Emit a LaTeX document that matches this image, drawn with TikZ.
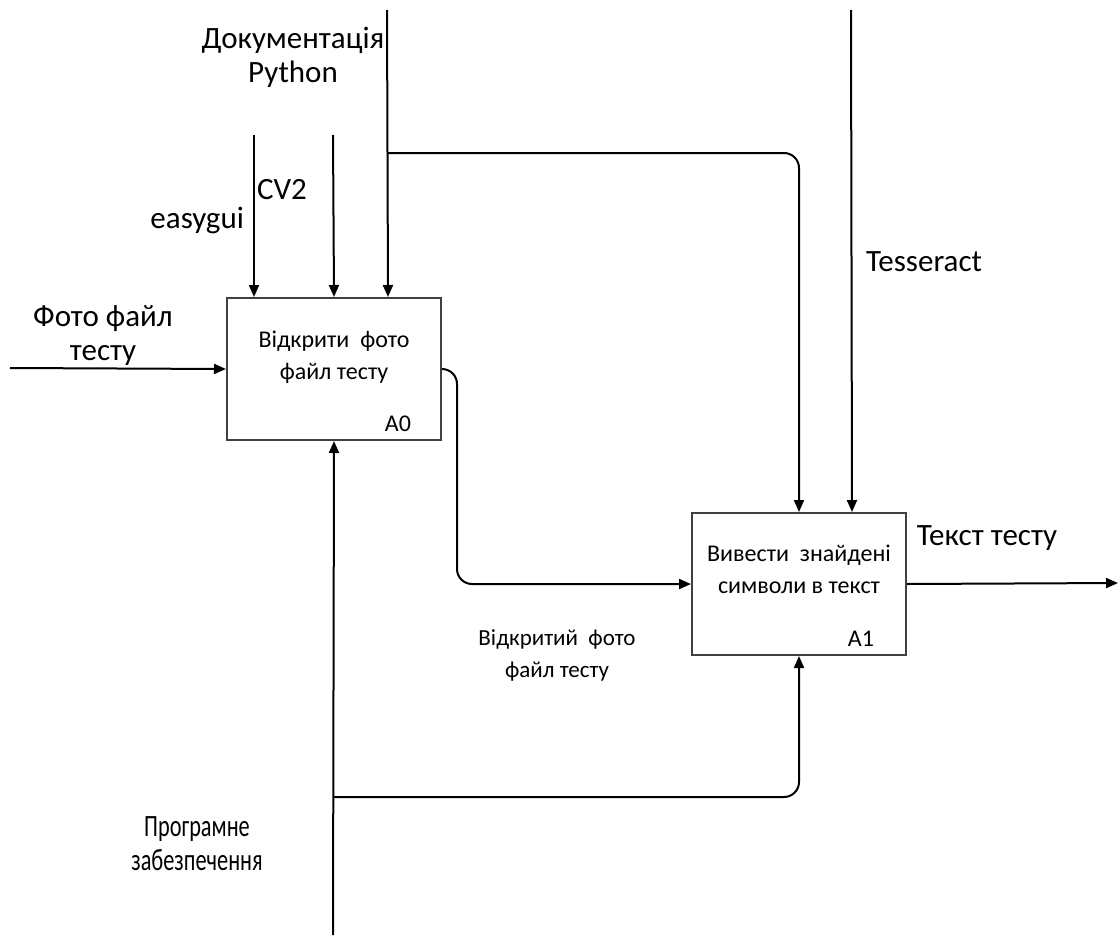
\documentclass[tikz,border=0pt]{standalone}
\usepackage{fontspec}
\setmainfont{Carlito}
\usetikzlibrary{arrows.meta, positioning}

\begin{document}
\begin{tikzpicture}[x=0.5pt, y=-0.5pt]

% --- Styles ---
\tikzset{
    funcbox/.style={draw=black!75, line width=1pt, minimum width=107pt, minimum height=71pt, anchor=north west},
    boxtext/.style={font=\fontsize{12}{16}\selectfont, align=center},
    boxcode/.style={font=\fontsize{12}{13}\selectfont},
    flow/.style={line width=1pt, -{Triangle[length=6pt, width=5pt]}},
    roundflow/.style={flow, rounded corners=7.5pt},
    arrowlabel/.style={font=\fontsize{15.5}{17}\selectfont, align=center}
}
\useasboundingbox (0,0) rectangle (1119,937);

% 1. The two function boxes
\node[funcbox] (a0) at (226,297) {};
\node[funcbox] (a1) at (691,512) {};
\node[boxtext] (a0text) at ([yshift=6pt]a0.center) {Відкрити \ фото\\файл тесту};
\node[boxtext] (a1text) at ([yshift=7.5pt]a1.center) {Вивести \ знайдені\\символи в текст};
\node[boxcode, anchor=south east] (a0code) at ([xshift=-12pt, yshift=1pt]a0.south east) {A0};
\node[boxcode, anchor=south east] (a1code) at ([xshift=-13pt, yshift=1pt]a1.south east) {A1};

% 2. Free ends of the arrows
\coordinate (photoIn) at (10,368);
\coordinate (easyguiIn) at (254,135);
\coordinate (cvIn) at (333,135);
\coordinate (docIn) at (387,10);
\coordinate (docBranch) at (387,153);
\coordinate (tessIn) at (851,10);
\coordinate (swIn) at (333,935);
\coordinate (swBranch) at (333,797);
\coordinate (textOut) at (1118,583);

% 3. Input, controls and mechanism of A0
\draw[flow] (photoIn) -- (a0.west);
\draw[flow] (easyguiIn) -- ([xshift=14pt]a0.north west);
\draw[flow] (cvIn) -- (a0.north);
\draw[flow] (docIn) -- ([xshift=27pt]a0.north);
\draw[flow] (swIn) -- (a0.south);

% 4. Arrows of A1
\draw[roundflow] (a0.east) -- ++(15,0) |- (a1.west);
\draw[roundflow] (docBranch) -| (a1.north);
\draw[flow] (tessIn) -- ([xshift=26.5pt]a1.north);
\draw[roundflow] (swBranch) -| (a1.south);
\draw[flow] (a1.east) -- (textOut);

% 5. Labels
\node[arrowlabel] (docLabel) at (293,57) {Документація\\Python};
\node[arrowlabel] (cvLabel) at (282,190) {CV2};
\node[arrowlabel, anchor=east] (easyguiLabel) at (251,220) {easygui};
\node[arrowlabel] (tessLabel) at (924,262) {Tesseract};
\node[arrowlabel] (photoLabel) at (103,336) {Фото файл\\тесту};
\node[boxtext, font=\fontsize{11.5}{16}\selectfont] (openLabel) at (557,655) {Відкритий \ фото\\файл тесту};
\node[arrowlabel] (textLabel) at (987,538) {Текст тесту};
\node[arrowlabel, xscale=0.72, transform shape] (swLabel) at (197,844) {Програмне\\забезпечення};

\end{tikzpicture}
\end{document}
